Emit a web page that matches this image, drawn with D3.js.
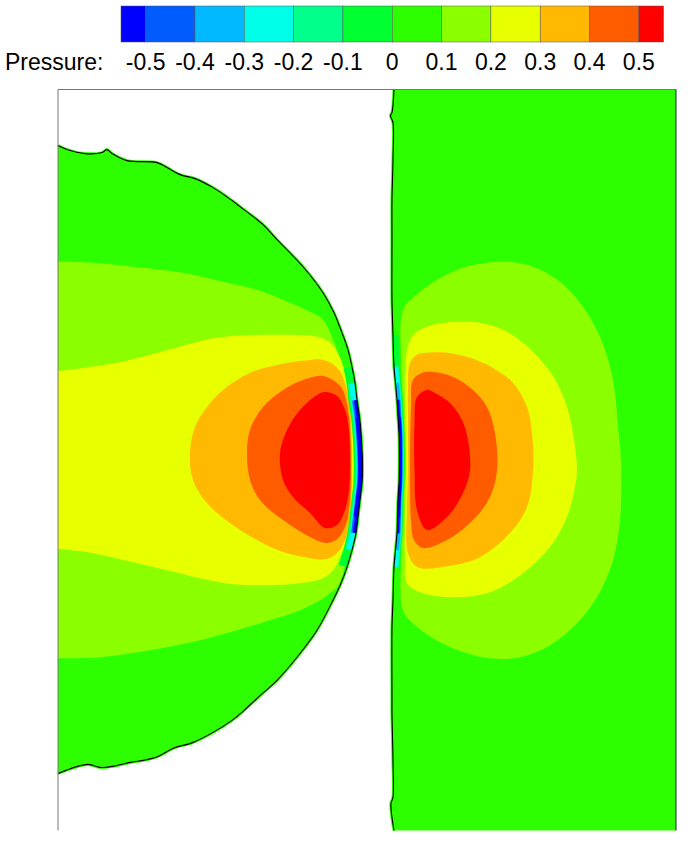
<!DOCTYPE html>
<html>
<head>
<meta charset="utf-8">
<script src="https://cdn.jsdelivr.net/npm/d3@7"></script>
<style>
  body { margin: 0; background: #fff; }
  svg { display: block; }
</style>
</head>
<body>
<div id="chart"></div>
<script>
// contour levels and legend
var levels = [-0.5, -0.4, -0.3, -0.2, -0.1, 0, 0.1, 0.2, 0.3, 0.4, 0.5];
var tickLabels = ["-0.5", "-0.4", "-0.3", "-0.2", "-0.1", "0", "0.1", "0.2", "0.3", "0.4", "0.5"];
var bandColors = ["#0000ff", "#005cff", "#00b9ff", "#00ffe8", "#00ff8b", "#00ff2e",
                  "#2eff00", "#8bff00", "#e8ff00", "#ffb900", "#ff5c00", "#ff0000"];

// droplet interface, top to bottom (x, y)
var dropEdge = [[0.00,3.14],[0.09,3.10],[0.27,3.06],[0.44,3.07],[0.49,3.10],[0.54,3.06],[0.69,2.99],
  [0.99,2.97],[1.09,2.92],[1.22,2.85],[1.37,2.81],[1.55,2.72],[1.70,2.62],[1.82,2.53],[2.05,2.35],
  [2.19,2.20],[2.45,1.93],[2.65,1.67],[2.76,1.47],[2.84,1.27],[2.90,1.10],[2.94,0.93],[2.97,0.77],
  [2.99,0.60],[3.015,0.43],[3.03,0.27],[3.04,0.10],[3.045,-0.07],[3.04,-0.23],[3.02,-0.40],
  [3.00,-0.57],[2.98,-0.73],[2.94,-0.90],[2.89,-1.07],[2.83,-1.23],[2.75,-1.40],[2.59,-1.70],
  [2.39,-1.97],[2.19,-2.20],[1.99,-2.38],[1.85,-2.51],[1.74,-2.60],[1.55,-2.72],[1.35,-2.82],
  [1.15,-2.88],[1.00,-2.96],[0.85,-3.00],[0.72,-3.02],[0.54,-3.06],[0.42,-3.07],[0.30,-3.04],[0.00,-3.13]];

// film surface on the right, top to bottom
var wallEdge = [[3.36,3.70],[3.34,3.47],[3.325,3.44],[3.35,3.37],[3.35,3.00],[3.34,2.60],[3.34,2.20],
  [3.34,1.60],[3.35,1.25],[3.36,0.93],[3.375,0.77],[3.39,0.60],[3.40,0.43],[3.41,0.27],[3.413,0.10],
  [3.413,-0.07],[3.41,-0.23],[3.40,-0.40],[3.395,-0.57],[3.39,-0.73],[3.375,-0.90],[3.36,-1.07],
  [3.35,-1.40],[3.34,-1.67],[3.34,-2.40],[3.34,-2.53],[3.35,-3.00],[3.35,-3.37],[3.33,-3.43],[3.36,-3.70]];

// pressure contours inside the droplet
var dropLime = [[-0.1,1.98],[0,1.98],[0.35,1.97],[0.75,1.93],[1.25,1.87],[1.65,1.78],[1.99,1.70],
  [2.25,1.60],[2.52,1.48],[2.65,1.40],[2.75,1.20],[2.85,0.93],[2.92,0.70],[2.96,0.35],[2.97,0.0],
  [2.955,-0.45],[2.90,-0.85],[2.85,-1.13],[2.79,-1.27],[2.72,-1.33],[2.62,-1.40],[2.42,-1.50],
  [2.12,-1.60],[1.79,-1.70],[1.42,-1.80],[0.92,-1.90],[0.42,-1.97],[0,-1.98],[-0.1,-1.98]];
var dropYellow = [[-0.1,0.89],[0,0.89],[0.25,0.92],[0.59,0.97],[0.92,1.05],[1.25,1.14],[1.52,1.21],
  [1.79,1.24],[2.25,1.25],[2.59,1.23],[2.72,1.17],[2.82,1.02],[2.90,0.75],[2.94,0.40],[2.955,0.0],
  [2.94,-0.45],[2.89,-0.80],[2.82,-0.97],[2.75,-1.10],[2.65,-1.18],[2.42,-1.23],[2.09,-1.25],
  [1.75,-1.24],[1.42,-1.18],[1.09,-1.10],[0.75,-1.02],[0.35,-0.93],[0,-0.89],[-0.1,-0.89]];
var dropOrange = [[2.65,1.00],[2.45,0.99],[2.25,0.96],[1.92,0.87],[1.65,0.70],[1.49,0.53],[1.37,0.33],
  [1.32,0.07],[1.35,-0.20],[1.49,-0.43],[1.72,-0.63],[1.99,-0.80],[2.25,-0.92],[2.52,-0.98],
  [2.67,-0.99],[2.78,-0.94],[2.87,-0.80],[2.925,-0.50],[2.94,-0.15],[2.935,0.25],[2.91,0.60],[2.81,0.90]];
var dropDeep = [[2.65,0.84],[2.45,0.80],[2.25,0.70],[2.05,0.53],[1.92,0.30],[1.89,0.07],[1.92,-0.20],
  [2.02,-0.40],[2.25,-0.60],[2.52,-0.77],[2.67,-0.83],[2.78,-0.80],[2.87,-0.67],[2.915,-0.45],
  [2.93,-0.15],[2.925,0.20],[2.90,0.50],[2.83,0.73]];
var dropRed = [[2.67,0.68],[2.59,0.65],[2.42,0.50],[2.29,0.30],[2.22,0.07],[2.25,-0.20],[2.35,-0.37],
  [2.52,-0.53],[2.67,-0.68],[2.79,-0.65],[2.87,-0.50],[2.91,-0.30],[2.92,0.00],[2.91,0.30],
  [2.87,0.50],[2.79,0.64]];

// pressure contours inside the film
var wallLime = [[3.45,1.50],[3.55,1.62],[3.79,1.80],[4.05,1.92],[4.29,1.97],[4.52,1.98],[4.75,1.93],
  [5.02,1.78],[5.25,1.53],[5.42,1.23],[5.52,0.93],[5.57,0.67],[5.60,0.33],[5.63,0.00],[5.62,-0.60],
  [5.55,-1.00],[5.39,-1.37],[5.19,-1.63],[4.92,-1.85],[4.62,-1.97],[4.32,-1.98],[4.09,-1.93],
  [3.82,-1.82],[3.55,-1.63],[3.45,-1.50],[3.43,-1.0],[3.45,-0.5],[3.465,0.0],[3.455,0.5],[3.43,1.0]];
var wallYellow = [[3.49,1.10],[3.54,1.23],[3.59,1.28],[3.75,1.35],[3.99,1.38],[4.22,1.37],[4.45,1.30],
  [4.65,1.17],[4.85,0.97],[4.99,0.77],[5.09,0.53],[5.15,0.27],[5.19,-0.10],[5.17,-0.27],[5.09,-0.57],
  [4.92,-0.87],[4.65,-1.13],[4.32,-1.32],[3.99,-1.37],[3.65,-1.33],[3.49,-1.23],[3.47,-1.00],
  [3.47,-0.5],[3.48,0.0],[3.47,0.5],[3.47,0.87]];
var wallOrange = [[3.52,0.97],[3.59,1.05],[3.69,1.07],[3.89,1.07],[4.12,1.02],[4.35,0.92],[4.55,0.77],
  [4.69,0.53],[4.74,0.27],[4.75,-0.10],[4.69,-0.47],[4.52,-0.73],[4.22,-0.97],[3.89,-1.06],
  [3.60,-1.07],[3.50,-0.93],[3.49,-0.5],[3.50,-0.10],[3.50,0.40],[3.50,0.70]];
var wallDeep = [[3.55,0.80],[3.64,0.87],[3.75,0.88],[3.95,0.83],[4.15,0.70],[4.29,0.53],[4.37,0.27],
  [4.39,-0.10],[4.32,-0.37],[4.15,-0.60],[3.89,-0.80],[3.65,-0.88],[3.56,-0.80],[3.53,-0.60],
  [3.52,-0.10],[3.53,0.53]];
var wallRed = [[3.59,0.63],[3.69,0.70],[3.75,0.68],[3.92,0.57],[4.04,0.40],[4.10,0.20],[4.12,-0.10],
  [4.05,-0.33],[3.89,-0.57],[3.69,-0.70],[3.59,-0.50],[3.565,-0.10],[3.565,0.37]];

var W = 693, H = 843;
var svg = d3.select("#chart").append("svg").attr("width", W).attr("height", H);

var x = d3.scaleLinear().domain([0, 6.18]).range([58, 676]);
var y = d3.scaleLinear().domain([-3.7, 3.7]).range([830.5, 89.5]);

var edgeLine = d3.line().x(function(d) { return x(d[0]); }).y(function(d) { return y(d[1]); })
  .curve(d3.curveCatmullRom.alpha(0.5));
var blob = d3.line().x(function(d) { return x(d[0]); }).y(function(d) { return y(d[1]); })
  .curve(d3.curveCatmullRomClosed.alpha(0.5));

function bandColor(lo) { return bandColors[levels.indexOf(lo) + 1]; }
var base = bandColor(0);

var dropPath = edgeLine(dropEdge) + "Z";
var wallPath = edgeLine(wallEdge) + "L" + x(6.18) + "," + y(-3.7) + "L" + x(6.18) + "," + y(3.7) + "Z";

var defs = svg.append("defs");
defs.append("clipPath").attr("id", "clipDrop").append("path").attr("d", dropPath);
defs.append("clipPath").attr("id", "clipWall").append("path").attr("d", wallPath);

// thin green rim just outside the interfaces
svg.append("path").attr("d", edgeLine(dropEdge)).attr("fill", "none")
  .attr("stroke", base).attr("stroke-width", 3);
svg.append("path").attr("d", edgeLine(wallEdge)).attr("fill", "none")
  .attr("stroke", base).attr("stroke-width", 3);

svg.append("path").attr("d", dropPath).attr("fill", base);
svg.append("path").attr("d", wallPath).attr("fill", base);

var dropBands = [[0.1, dropLime], [0.2, dropYellow], [0.3, dropOrange], [0.4, dropDeep], [0.5, dropRed]];
var wallBands = [[0.1, wallLime], [0.2, wallYellow], [0.3, wallOrange], [0.4, wallDeep], [0.5, wallRed]];

// negative-pressure skin along each interface: [upper level of band, stroke width, y top, y bottom]
var dropSkin = [[0, 17, 0.95, -1.1], [-0.1, 14, 0.8, -0.95], [-0.2, 12, 0.8, -0.95],
                [-0.3, 10.4, 0.62, -0.75], [-0.4, 9.4, 0.62, -0.75],
                [-0.5, 6, 0.62, -0.75], [-0.5, 8.6, 0.45, -0.6]];
var wallSkin = [[0, 11, 1.3, -1.3], [-0.1, 9.4, 1.0, -1.1], [-0.2, 8.2, 0.95, -1.1],
                [-0.3, 7, 0.8, -0.95], [-0.4, 6.2, 0.62, -0.75],
                [-0.5, 4, 0.62, -0.75], [-0.5, 5.4, 0.45, -0.6]];

function drawRegion(clipId, bands, edge, skin) {
  var g = svg.append("g").attr("clip-path", "url(#" + clipId + ")");
  g.selectAll("path.band").data(bands).enter().append("path")
    .attr("class", "band")
    .attr("d", function(d) { return blob(d[1]); })
    .attr("fill", function(d) { return bandColor(d[0]); });
  g.selectAll("path.skin").data(skin).enter().append("path")
    .attr("class", "skin")
    .attr("d", function(d) {
      return edgeLine(edge.filter(function(p) { return p[1] <= d[2] && p[1] >= d[3]; }));
    })
    .attr("fill", "none")
    .attr("stroke", function(d) { return bandColors[levels.indexOf(d[0])]; })
    .attr("stroke-width", function(d) { return d[1]; })
    .attr("stroke-linecap", "butt");
}
drawRegion("clipDrop", dropBands, dropEdge, dropSkin);
drawRegion("clipWall", wallBands, wallEdge, wallSkin);

// interface lines
svg.append("path").attr("d", edgeLine(dropEdge)).attr("fill", "none")
  .attr("stroke", "#000").attr("stroke-width", 1.1);
svg.append("path").attr("d", edgeLine(wallEdge)).attr("fill", "none")
  .attr("stroke", "#000").attr("stroke-width", 1.1);

// frame
svg.append("line").attr("x1", x(0)).attr("x2", x(0)).attr("y1", y(3.7)).attr("y2", y(-3.7))
  .attr("stroke", "#777").attr("stroke-width", 1);
svg.append("line").attr("x1", x(0)).attr("x2", x(6.18)).attr("y1", y(3.7)).attr("y2", y(3.7))
  .attr("stroke", "#777").attr("stroke-width", 1);
svg.append("line").attr("x1", x(6.18)).attr("x2", x(6.18)).attr("y1", y(3.7)).attr("y2", y(-3.7))
  .attr("stroke", "#222").attr("stroke-width", 1);

// colour bar
var cb = d3.scaleLinear().domain([-0.55, 0.55]).range([121, 663.5]);
var edges = [-0.55].concat(levels).concat([0.55]);
var bar = svg.append("g");
bar.selectAll("rect").data(d3.range(bandColors.length)).enter().append("rect")
  .attr("x", function(i) { return cb(edges[i]); })
  .attr("width", function(i) { return cb(edges[i + 1]) - cb(edges[i]); })
  .attr("y", 6).attr("height", 36)
  .attr("fill", function(i) { return bandColors[i]; })
  .attr("stroke", "#555").attr("stroke-width", 0.5);

var font = "'Liberation Sans', Arial, Helvetica, sans-serif";
bar.selectAll("text.tick").data(levels).enter().append("text")
  .attr("class", "tick")
  .attr("x", function(d) { return cb(d); })
  .attr("y", 70)
  .attr("text-anchor", "middle")
  .attr("font-family", font).attr("font-size", 23).attr("fill", "#000")
  .text(function(d, i) { return tickLabels[i]; });
bar.append("text").attr("x", 5).attr("y", 70)
  .attr("font-family", font).attr("font-size", 23).attr("fill", "#000")
  .text("Pressure:");
</script>
</body>
</html>
